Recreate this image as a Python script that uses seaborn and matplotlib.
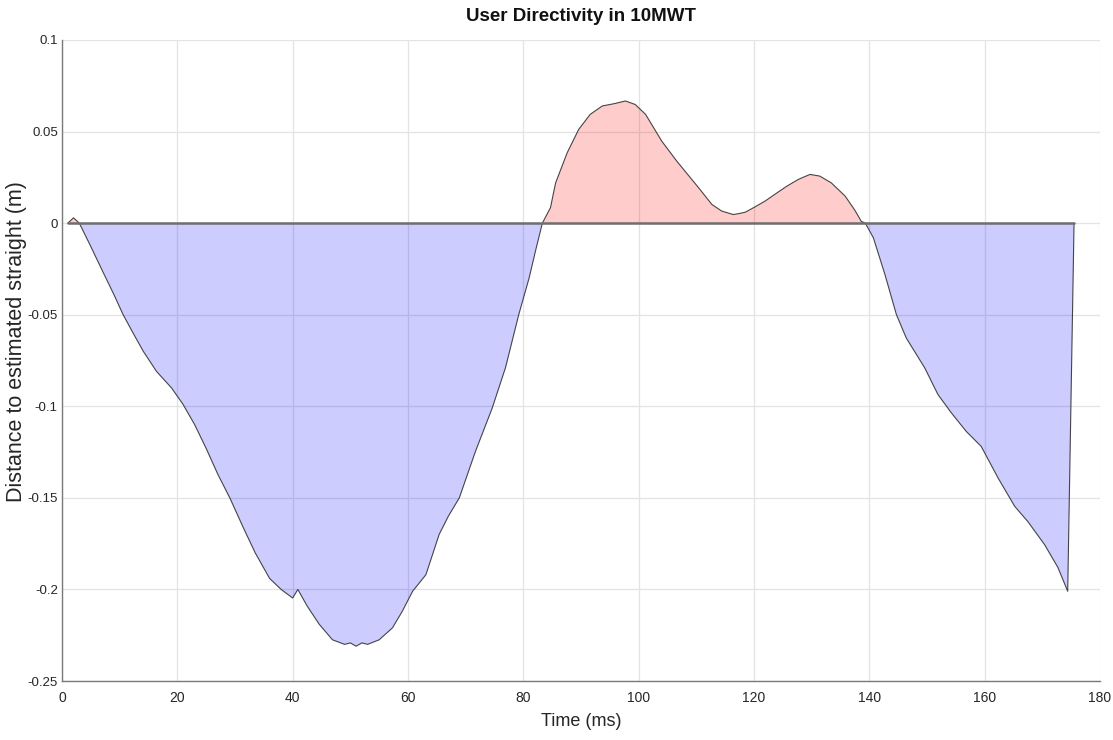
import matplotlib
matplotlib.use("Agg")
import matplotlib.pyplot as plt
import seaborn as sns
import numpy as np
import pandas as pd

time_ms = [1, 2, 3, 4.8, 7, 9, 10.6, 12.5, 14.1, 16.4, 19, 21, 23, 25, 27, 29.1,
           31.4, 33.5, 36, 38, 40, 40.9, 42.5, 44.6, 46.9, 49, 50, 51, 52, 53,
           55, 57.3, 59, 60.8, 63.1, 65.4, 67, 68.9, 71.7, 74.6, 76.9, 79.2, 81,
           82.1, 83.3, 84.7, 85.6, 87.6, 89.6, 91.6, 93.7, 95.7, 97.7, 99.4,
           101.2, 104, 106.6, 110.4, 112.7, 114.4, 116.4, 117.5, 118.5, 119.9,
           121.9, 123.6, 125.7, 127.7, 129.7, 131.4, 133.4, 135.8, 137.5, 138.6,
           139.3, 140.7, 142.7, 144.7, 146.4, 149.6, 151.9, 154.2, 156.8, 159.4,
           162.3, 165.2, 167.5, 170.4, 172.7, 174.4, 175.5]
distance = [0.0, 0.0029, 0.0, -0.0115, -0.026, -0.039, -0.050, -0.061, -0.070,
            -0.081, -0.090, -0.099, -0.110, -0.123, -0.137, -0.150, -0.166,
            -0.180, -0.194, -0.200, -0.2047, -0.200, -0.209, -0.219, -0.2275,
            -0.230, -0.2292, -0.231, -0.2292, -0.2300, -0.2275, -0.221, -0.212,
            -0.201, -0.192, -0.170, -0.160, -0.150, -0.1246, -0.101, -0.079,
            -0.050, -0.030, -0.0153, 0.0, 0.0084, 0.022, 0.0384, 0.0512, 0.0594,
            0.064, 0.0652, 0.0667, 0.0648, 0.0594, 0.0448, 0.0339, 0.0193,
            0.0102, 0.0066, 0.0047, 0.0053, 0.006, 0.0084, 0.012, 0.0157,
            0.0202, 0.0239, 0.0266, 0.0257, 0.022, 0.0148, 0.007, 0.001, 0.0,
            -0.008, -0.028, -0.050, -0.0627, -0.079, -0.0936, -0.1035, -0.1137,
            -0.1219, -0.139, -0.1546, -0.163, -0.1756, -0.188, -0.201, 0.0]

x_ticks = [0, 20, 40, 60, 80, 100, 120, 140, 160, 180]
y_ticks = [0.1, 0.05, 0, -0.05, -0.1, -0.15, -0.2, -0.25]
y_tick_labels = ["0.1", "0.05", "0", "-0.05", "-0.1", "-0.15", "-0.2", "-0.25"]

title = "User Directivity in 10MWT"
xlabel = "Time (ms)"
ylabel = "Distance to estimated straight (m)"

sns.set_theme(style="white")
plt.rcParams["axes.unicode_minus"] = False
plt.rcParams["font.family"] = ["Liberation Sans", "DejaVu Sans"]

df = pd.DataFrame({"t": time_ms, "d": distance})

fig = plt.figure(figsize=(11.13, 7.4), dpi=100)
ax = fig.add_axes([62 / 1113, 1 - 681 / 740, (1100 - 62) / 1113, (681 - 40) / 740])

t = np.array(time_ms)
d = np.array(distance)
ax.fill_between(t, d, 0, where=d >= 0, interpolate=True, color=(1, 0, 0),
                alpha=0.2, linewidth=0, zorder=2)
ax.fill_between(t, d, 0, where=d <= 0, interpolate=True, color=(0, 0, 1),
                alpha=0.2, linewidth=0, zorder=2)
sns.lineplot(data=df, x="t", y="d", ax=ax, color="#333333", linewidth=0.8,
             alpha=0.9, zorder=3, sort=False)
ax.plot([t[0], t[-1]], [0, 0], color="#6e6e6e", linewidth=1.8, zorder=3)

ax.set_xlim(0, 180)
ax.set_ylim(-0.25, 0.1)
ax.set_xticks(x_ticks)
ax.set_xticklabels([str(v) for v in x_ticks])
ax.set_yticks(y_ticks)
ax.set_yticklabels(y_tick_labels)
ax.grid(True, color="#e3e3e3", linewidth=0.9, zorder=0)
ax.set_axisbelow(True)

for s in ["top", "right"]:
    ax.spines[s].set_visible(False)
for s in ["left", "bottom"]:
    ax.spines[s].set_color("#7a7a7a")
    ax.spines[s].set_linewidth(1.0)

ax.tick_params(axis="x", direction="in", length=13.5, width=0.9, color="#555555",
               labelsize=10, labelcolor="#262626", pad=7)
ax.tick_params(axis="y", direction="in", length=7.2, width=0.9, color="#444444",
               labelsize=9.5, labelcolor="#262626", pad=3)

ax.set_title(title, fontsize=13.5, fontweight="bold", color="#111111", pad=14)
ax.set_xlabel(xlabel, fontsize=13, color="#262626", labelpad=6)
ax.set_ylabel(ylabel, fontsize=15.5, color="#262626")
ax.yaxis.set_label_coords(-0.0335, 0.529)

fig.savefig("out.png", dpi=100)
